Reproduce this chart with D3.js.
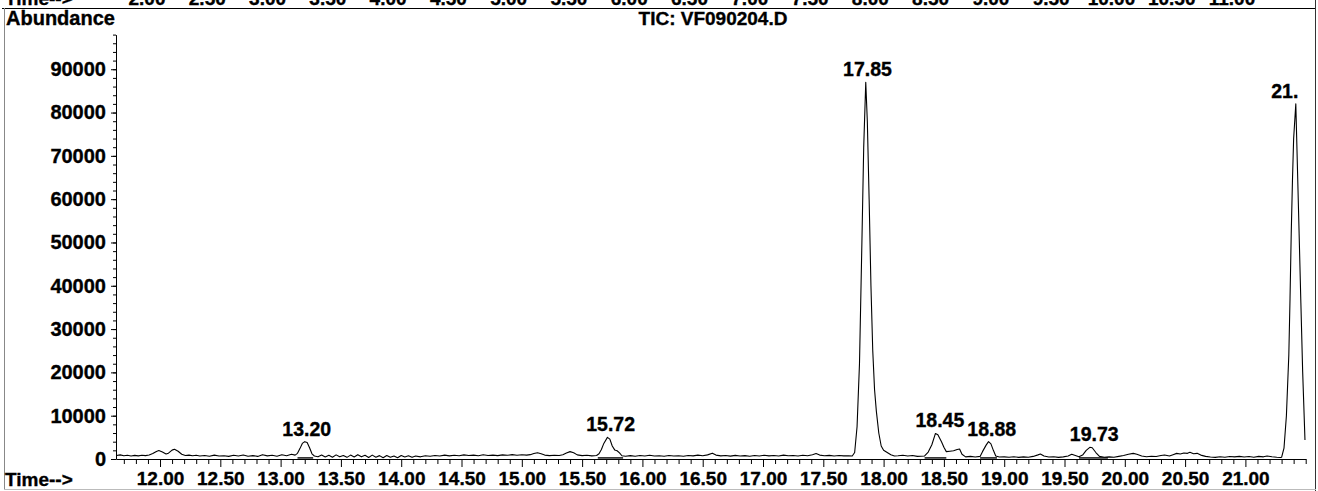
<!DOCTYPE html>
<html>
<head>
<meta charset="utf-8">
<script src="https://cdn.jsdelivr.net/npm/d3@7"></script>
<style>
  html, body { margin: 0; padding: 0; background: #fff; }
  svg { display: block; }
</style>
</head>
<body>
<div id="plot"></div>
<script>
// TIC trace of VF090204.D as [retention time (min), abundance]
const traceStart = [
    [11.64, 820], [11.67, 950], [11.70, 760], [11.73, 880], [11.76, 700], [11.79, 840],
    [11.82, 720], [11.85, 860], [11.88, 780], [11.91, 920], [11.94, 1250], [11.97, 1750],
    [11.99, 1950], [12.02, 1600], [12.05, 1150], [12.07, 1350], [12.10, 2050], [12.12, 2250],
    [12.15, 1800], [12.18, 1100], [12.21, 820], [12.24, 900], [12.27, 760], [12.30, 860],
    [12.33, 700], [12.37, 820], [12.41, 650], [12.45, 900], [12.49, 700], [12.53, 760],
    [12.57, 600], [12.61, 850], [12.65, 680], [12.69, 920], [12.73, 640], [12.77, 780],
    [12.81, 600], [12.85, 1000], [12.89, 720], [12.93, 860], [12.97, 640], [13.01, 980],
    [13.05, 760], [13.09, 1100], [13.12, 900],
    [13.14, 1300], [13.16, 2400], [13.18, 3600], [13.20, 4000], [13.22, 3800], [13.24, 2600],
    [13.26, 1200], [13.28, 700]
];

const traceMiddle = [
    [13.31, 500], [13.34, 900], [13.37, 450], [13.40, 850], [13.43, 400], [13.46, 950],
    [13.49, 500], [13.52, 800], [13.55, 380], [13.58, 900], [13.61, 450], [13.64, 1000],
    [13.67, 500], [13.70, 850], [13.73, 350], [13.76, 900], [13.79, 420], [13.82, 780],
    [13.85, 300], [13.88, 820], [13.91, 400], [13.94, 700], [13.97, 300], [14.00, 800],
    [14.03, 450], [14.06, 750], [14.09, 380], [14.12, 700], [14.16, 500], [14.20, 760],
    [14.24, 620], [14.28, 820], [14.32, 680], [14.36, 900], [14.40, 720], [14.44, 850],
    [14.48, 760], [14.52, 950], [14.56, 820], [14.60, 900], [14.64, 760], [14.68, 980],
    [14.72, 820], [14.76, 900], [14.80, 780], [14.84, 950], [14.88, 860], [14.92, 1000],
    [14.96, 880], [15.00, 980], [15.04, 900], [15.07, 1000], [15.10, 1250], [15.13, 1450],
    [15.16, 1200], [15.19, 900], [15.23, 780], [15.27, 880], [15.31, 800], [15.34, 1000],
    [15.37, 1400], [15.40, 1700], [15.43, 1450], [15.46, 950], [15.50, 780], [15.54, 860],
    [15.58, 720], [15.62, 800], [15.64, 1200], [15.66, 2200], [15.68, 3600], [15.71, 5000],
    [15.73, 4600], [15.75, 3000], [15.77, 2100], [15.79, 1900], [15.81, 1400], [15.83, 750],
    [15.86, 620], [15.90, 780], [15.94, 650], [15.98, 820], [16.02, 700], [16.06, 880],
    [16.10, 680], [16.14, 760], [16.18, 640], [16.22, 820], [16.26, 700], [16.30, 760],
    [16.34, 620], [16.38, 800], [16.42, 720], [16.46, 900], [16.50, 760], [16.54, 950],
    [16.58, 1350], [16.61, 900], [16.65, 720], [16.69, 800], [16.73, 660], [16.77, 840],
    [16.81, 700], [16.85, 780], [16.89, 640], [16.93, 820], [16.97, 700], [17.01, 860],
    [17.05, 720], [17.09, 800], [17.13, 680], [17.17, 900], [17.21, 760], [17.25, 820],
    [17.29, 700], [17.33, 880], [17.37, 760], [17.41, 1000], [17.44, 1250], [17.47, 900],
    [17.51, 760], [17.55, 840], [17.59, 700], [17.63, 800], [17.67, 720], [17.71, 760]
];

const traceMainPeak = [
    [17.74, 700], [17.76, 1500], [17.78, 7500], [17.80, 22000], [17.82, 50000], [17.835, 72000],
    [17.852, 87000], [17.865, 78000], [17.88, 60000], [17.895, 40000], [17.91, 25000],
    [17.925, 16000], [17.94, 11000], [17.96, 6000], [17.98, 3000], [18.00, 2000], [18.03, 1500],
    [18.06, 1000], [18.09, 700]
];

const traceEnd = [
    [18.12, 760], [18.16, 880], [18.20, 700], [18.24, 820], [18.28, 600], [18.31, 650],
    [18.34, 700], [18.37, 1600], [18.40, 3300], [18.43, 5900], [18.45, 5600], [18.48, 4000],
    [18.50, 2700], [18.52, 1700], [18.55, 1800], [18.58, 1900], [18.61, 2200], [18.63, 2300],
    [18.65, 1100], [18.68, 500], [18.72, 600], [18.76, 450], [18.80, 600], [18.82, 1700],
    [18.85, 3200], [18.87, 4000], [18.89, 3500], [18.91, 2000], [18.93, 700], [18.96, 450],
    [19.00, 500], [19.04, 400], [19.08, 520], [19.12, 380], [19.16, 480], [19.20, 400],
    [19.24, 600], [19.28, 950], [19.30, 1150], [19.33, 700], [19.37, 450], [19.41, 520],
    [19.45, 380], [19.49, 500], [19.53, 700], [19.56, 1100], [19.59, 800], [19.62, 500],
    [19.65, 900], [19.68, 2000], [19.71, 2700], [19.73, 2600], [19.76, 1500], [19.79, 600],
    [19.83, 400], [19.87, 500], [19.91, 420], [19.95, 600], [19.99, 800], [20.03, 1100],
    [20.07, 1300], [20.10, 1100], [20.14, 700], [20.18, 530], [20.22, 650], [20.26, 560],
    [20.30, 800], [20.33, 920], [20.37, 700], [20.40, 1000], [20.43, 1300], [20.46, 1150],
    [20.49, 1400], [20.52, 1300], [20.54, 1550], [20.57, 1200], [20.60, 1300], [20.63, 900],
    [20.67, 600], [20.71, 450], [20.75, 380], [20.79, 520], [20.83, 420], [20.87, 560],
    [20.91, 480], [20.95, 600], [20.99, 450], [21.03, 560], [21.07, 420], [21.11, 600],
    [21.15, 500], [21.18, 700], [21.22, 520], [21.26, 400], [21.29, 350],
    [21.30, 400], [21.32, 2500], [21.34, 10000], [21.36, 24000], [21.37, 37000], [21.38, 52000],
    [21.39, 64000], [21.40, 74000], [21.418, 82000], [21.44, 58000], [21.46, 36000],
    [21.475, 20000], [21.494, 4400]
];

// integration baselines drawn under the integrated peaks [start, end]
const integrationBaselines = [[13.14, 13.27], [15.63, 15.84], [18.34, 18.52], [18.80, 18.94], [19.62, 19.86]];

// peak labels (retention times printed above the peaks)
const peakLabels = [
    {rt: 13.20, text: '13.20'},
    {rt: 15.72, text: '15.72'},
    {rt: 17.85, text: '17.85'},
    {rt: 18.45, text: '18.45'},
    {rt: 18.88, text: '18.88'},
    {rt: 19.73, text: '19.73'},
    {rt: 21.40, text: '21.40'}
];

const timeTicks = [12.0, 12.5, 13.0, 13.5, 14.0, 14.5, 15.0, 15.5, 16.0, 16.5, 17.0, 17.5,
    18.0, 18.5, 19.0, 19.5, 20.0, 20.5, 21.0];
const abundanceTicks = [0, 10000, 20000, 30000, 40000, 50000, 60000, 70000, 80000, 90000];
// tick labels of the panel above, only their lower half is left on the page
const upperPanelTicks = [2.0, 2.5, 3.0, 3.5, 4.0, 4.5, 5.0, 5.5, 6.0, 6.5, 7.0, 7.5, 8.0, 8.5,
    9.0, 9.5, 10.0, 10.5, 11.0];

const width = 1318;
const height = 491;
const plot = {left: 116, right: 1305.7, top: 34.6, bottom: 459};
const fontFamily = '"Liberation Sans", Arial, sans-serif';

const trace = [].concat(traceStart, traceMiddle, traceMainPeak, traceEnd);

const svg = d3.select('#plot')
    .append('svg')
    .attr('width', width)
    .attr('height', height);

const x = d3.scaleLinear().domain([11.635, 21.5]).range([plot.left, plot.right]);
const y = d3.scaleLinear().domain([0, 98000]).range([plot.bottom, plot.top]);
const xUpper = d3.scaleLinear().domain([2, 11]).range([147, 1232]);

// the print uses a heavy bold face, a thin outline thickens Liberation Sans a bit
function boldText(sel, size) {
    sel.attr('font-family', fontFamily)
        .attr('font-weight', 'bold')
        .attr('font-size', size + 'px')
        .attr('fill', '#000')
        .attr('stroke', '#000')
        .attr('stroke-width', 0.35);
}

// page frame
svg.append('line').attr('x1', 2).attr('x2', 1316).attr('y1', 8.5).attr('y2', 8.5)
    .attr('stroke', '#000');
svg.append('line').attr('x1', 4.5).attr('x2', 4.5).attr('y1', 8).attr('y2', 489)
    .attr('stroke', '#888');
svg.append('line').attr('x1', 1315.5).attr('x2', 1315.5).attr('y1', 0).attr('y2', 491)
    .attr('stroke', '#333');
svg.append('line').attr('x1', 4).attr('x2', 1316).attr('y1', 489.5).attr('y2', 489.5)
    .attr('stroke', '#bbb');

// remains of the upper panel's time axis (cut by the page edge, as in the print)
svg.append('text').attr('x', 5).attr('y', 5).text('Time-->').call(boldText, 19);
svg.append('g').selectAll('text')
    .data(upperPanelTicks)
    .join('text')
    .attr('x', d => xUpper(d))
    .attr('y', 5)
    .attr('text-anchor', 'middle')
    .text(d => d.toFixed(2))
    .call(boldText, 19);

// titles
svg.append('text').attr('x', 6).attr('y', 25).text('Abundance').call(boldText, 20);
svg.append('text').attr('x', 713).attr('y', 25).attr('text-anchor', 'middle')
    .text('TIC: VF090204.D').call(boldText, 19);

// x axis
const minorTimes = d3.range(117, 216).map(i => i / 10)
    .filter(t => !timeTicks.some(m => Math.abs(m - t) < 1e-6));

const xMinor = svg.append('g')
    .attr('transform', `translate(0,${plot.bottom})`)
    .call(d3.axisBottom(x).tickValues(minorTimes).tickSize(5).tickSizeOuter(0).tickFormat(''));
xMinor.select('.domain').remove();

const xAxis = svg.append('g')
    .attr('transform', `translate(0,${plot.bottom})`)
    .call(d3.axisBottom(x).tickValues(timeTicks).tickSize(8).tickSizeOuter(0)
        .tickPadding(5).tickFormat(d3.format('.2f')));
xAxis.selectAll('text').call(boldText, 19);

svg.append('text').attr('x', 5).attr('y', 486).text('Time-->').call(boldText, 19);

// y axis
const yMinor = svg.append('g')
    .attr('transform', `translate(${plot.left},0)`)
    .call(d3.axisLeft(y).tickValues(d3.range(0, 98001, 2000)).tickSize(3).tickSizeOuter(0).tickFormat(''));
yMinor.select('.domain').remove();

const yAxis = svg.append('g')
    .attr('transform', `translate(${plot.left},0)`)
    .call(d3.axisLeft(y).tickValues(abundanceTicks).tickSize(5).tickSizeOuter(0)
        .tickPadding(5).tickFormat(d3.format('d')));
yAxis.selectAll('text').call(boldText, 20);

// integration baselines
svg.append('g').selectAll('line')
    .data(integrationBaselines)
    .join('line')
    .attr('x1', d => x(d[0]))
    .attr('x2', d => x(d[1]))
    .attr('y1', y(250))
    .attr('y2', y(250))
    .attr('stroke', '#000')
    .attr('stroke-width', 1.4);

// the TIC trace
const line = d3.line()
    .x(d => x(d[0]))
    .y(d => y(d[1]));

svg.append('path')
    .datum(trace)
    .attr('d', line)
    .attr('fill', 'none')
    .attr('stroke', '#000')
    .attr('stroke-width', 1.1)
    .attr('stroke-linejoin', 'round');

// peak labels, cut short when they run past the end of the axis
peakLabels.forEach(p => {
    const apex = d3.max(trace.filter(d => Math.abs(d[0] - p.rt) <= 0.03), d => d[1]);
    const cx = x(p.rt) + 2;
    const label = svg.append('text')
        .attr('y', y(apex) - 6)
        .text(p.text)
        .call(boldText, 19.5);
    const full = label.node().getComputedTextLength();
    const left = cx - full / 2;
    let txt = p.text;
    while (txt.length > 1 && left + label.node().getComputedTextLength() > plot.right) {
        txt = txt.slice(0, -1);
        label.text(txt);
    }
    label.attr('x', left);
});
</script>
</body>
</html>
